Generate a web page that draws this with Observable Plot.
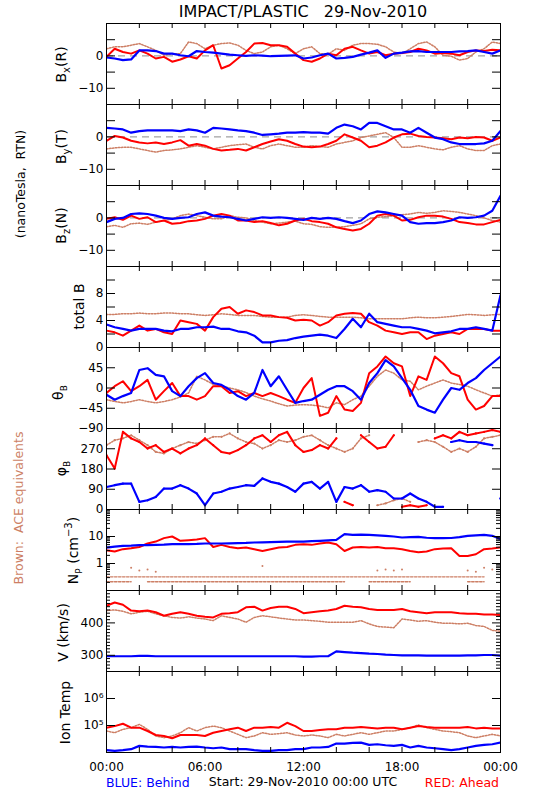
<!DOCTYPE html>
<html><head><meta charset="utf-8">
<script src="https://cdn.jsdelivr.net/npm/d3@7"></script>
<script src="https://cdn.jsdelivr.net/npm/@observablehq/plot@0.6"></script>
<style>
body{margin:0;background:#fff;}
#chart{position:relative;width:550px;height:800px;background:#fff;overflow:hidden;}
#overlay{position:absolute;left:0;top:0;pointer-events:none;}
</style></head><body><div id="chart"></div>
<script>
// ---------- data (every 30 min, hours since 00:00 UTC) ----------
const hours = [0,0.5,1,1.5,2,2.5,3,3.5,4,4.5,5,5.5,6,6.5,7,7.5,8,8.5,9,9.5,10,10.5,11,11.5,12,12.5,13,13.5,14,14.5,15,15.5,16,16.5,17,17.5,18,18.5,19,19.5,20,20.5,21,21.5,22,22.5,23,23.5,24];

const bxBlue  = [-0.5,-0.8,-1.3,-1.1,1.7,1.7,1.5,0.7,0.7,0.2,-0.1,1.5,1.2,1.0,0.7,0.4,0.2,0,0.2,0.1,-0.1,0,0.1,0.2,-0.8,-0.5,0.2,0.7,-0.8,-0.6,-0.3,0.4,1.0,1.7,-0.6,0.7,1.0,1.4,1.5,1.2,1.2,1.2,1.2,1.4,1.5,1.7,1.2,0.7,1.7];
const bxRed   = [-0.3,2.2,1.2,0.7,1.7,0.7,-0.8,-0.3,-1.8,-1.1,-0.1,-0.8,1.7,3.3,-3.9,-2.9,-0.8,1.2,3.8,4.0,3.3,3.3,2.8,0.7,-1.3,-1.8,-0.8,0.7,0.2,2.2,2.8,1.7,0.7,1.2,0.2,0.7,0.9,1.2,2.2,1.7,0.7,0.9,0.7,0.2,1.2,1.7,1.5,1.9,1.7];
const bxBrown = [2.2,2.8,2.8,3.3,3.8,2.8,1.7,0.2,0.7,0.7,4.3,3.8,2.2,3.3,3.8,4.0,3.3,1.7,0.7,1.2,2.8,3.3,2.2,0.7,2.2,2.8,0.7,0.5,2.2,1.7,3.3,3.8,3.8,3.6,2.8,1.2,0.7,2.2,3.8,4.3,2.8,0.2,-0.1,-1.3,-0.8,1.2,2.2,4.3,3.8];

const byBlue  = [2.8,2.6,2.3,1.3,1.8,2.0,2.0,2.0,2.0,1.8,2.3,2.0,1.3,2.8,2.6,2.3,2.0,1.8,1.3,0.6,0.8,1.0,1.3,1.3,1.5,1.3,1.3,1.0,2.8,3.8,3.3,2.3,4.3,4.3,3.3,2.3,2.3,1.3,2.8,1.3,-0.2,-0.7,-1.7,-2.2,-2.2,-2.2,-2.0,-1.2,1.8];
const byRed   = [-1.2,0.3,-0.2,-1.2,-1.7,-2.0,-1.7,-2.2,-1.7,-1.0,-2.7,-2.2,-2.7,-3.7,-4.2,-4.0,-3.7,-4.2,-3.2,-2.2,-1.4,-0.7,-1.2,-2.2,-3.0,-3.2,-3.0,-2.2,-1.2,0.8,-0.2,-1.2,-3.2,-2.7,-1.7,-0.2,0.8,1.0,0.3,0,-0.2,-0.4,-0.7,-0.2,-0.4,0,-0.2,-1.2,-0.2];
const byBrown = [-3.7,-3.4,-3.2,-3.2,-3.7,-4.2,-4.7,-4.2,-4.0,-3.7,-3.2,-2.7,-3.2,-3.7,-3.2,-2.7,-2.4,-2.2,-3.2,-3.7,-2.7,-2.2,-2.7,-3.2,-3.2,-2.7,-3.0,-3.2,-2.2,-1.7,-1.2,-0.2,0.3,0.8,1.3,-0.2,-3.2,-3.2,-2.7,-3.2,-3.7,-4.0,-3.2,-2.7,-3.7,-4.2,-4.2,-2.7,-2.2];

const bzBlue  = [-1.3,-0.3,0,1.2,1.4,1.2,0.7,0,-0.3,0,0.2,1.2,1.7,0.7,0.4,0.2,-0.3,-0.8,-0.3,0.2,0,0.2,0,-0.3,-0.6,0,-0.3,0,-0.3,-1.0,-1.6,-0.8,1.2,2.0,1.7,1.2,0.7,-1.3,-1.8,-1.6,-1.6,-1.3,-0.8,0.2,0,0.2,0.7,2.2,6.8];
const bzRed   = [-0.3,0.2,-0.6,0.7,-0.3,0.2,-1.3,-0.8,-1.8,-1.6,-1.0,-0.8,-0.3,0.7,1.2,0.7,-0.8,-0.8,-1.3,-1.0,-1.6,-2.3,-1.8,-0.8,-0.3,-1.0,-1.3,-1.8,-2.9,-3.4,-3.9,-3.4,-1.8,0.7,1.2,0.7,-0.8,-0.6,0.2,0.7,0.7,0.4,-0.3,-1.3,-1.6,-2.0,-2.0,-1.3,-0.6];
const bzBrown = [-2.7,-2.3,-2.9,-1.8,-1.6,-2.0,-1.3,-0.8,-0.3,0.7,1.2,0.7,0.2,-0.3,-0.3,0.7,0.2,0,-0.8,-1.3,-1.8,-1.6,-1.3,-1.0,-1.8,-2.0,-2.7,-2.9,-2.9,-2.7,-2.3,-1.8,-0.3,0.2,0.4,0.7,1.0,1.2,1.7,1.4,1.7,2.2,2.0,1.7,1.2,0.7,0,-0.8,-1.3];

const btBlue  = [3.4,3.0,2.75,2.5,2.75,2.75,2.75,2.5,2.4,2.75,2.75,3.0,3.0,3.1,2.75,2.75,2.4,2.25,1.75,0.75,0.75,1.0,1.1,1.4,1.6,1.75,1.9,1.75,1.4,2.75,4.25,3.0,5.0,3.75,3.5,3.25,3.0,3.0,2.75,2.5,2.1,2.25,2.4,2.75,2.75,3.0,2.75,2.5,7.75];
const btRed   = [2.5,2.25,1.75,2.5,3.25,2.5,2.75,2.25,2.0,4.0,3.75,3.5,2.5,4.5,5.75,6.0,5.0,5.5,5.25,4.75,4.75,4.5,4.4,4.0,4.1,4.0,3.25,3.75,4.75,5.0,5.1,5.0,3.75,3.25,2.5,2.25,2.0,2.25,2.25,1.25,1.75,2.0,2.25,2.0,2.75,2.75,2.75,2.5,2.5];
const btBrown = [4.9,4.9,5.0,5.0,5.1,5.0,5.0,5.1,5.1,5.0,5.0,4.85,4.75,4.85,5.0,4.9,4.75,4.75,4.75,4.6,4.5,4.5,4.5,4.75,4.85,4.75,4.6,4.5,4.5,4.5,4.5,4.4,4.25,4.25,4.25,4.25,4.25,4.4,4.5,4.4,4.4,4.5,4.6,4.75,4.9,4.85,4.75,4.85,4.9];

const thBlue  = [-15,-26,-18,-11,40,44,29,26,-7,-18,4,22,33,11,7,-4,-18,-26,-11,40,4,26,-4,-33,-29,-26,-15,-4,4,4,-7,-26,11,33,62,48,22,-4,-40,-48,-55,-26,0,-4,11,22,40,55,70];
const thRed   = [-11,4,15,-7,4,18,-26,-7,11,-18,-18,-26,-18,4,4,-11,-7,-18,-11,-18,-11,-18,-26,-33,0,22,-62,-55,-18,-48,-51,-33,33,48,70,55,48,-18,26,18,70,55,33,26,-26,-48,-40,-18,-18];
const thBrown = [-26,-30,-33,-30,-26,-30,-33,-30,-26,-20,-11,26,18,8,4,0,-4,-10,-18,-24,-29,-35,-40,-38,-37,-38,-40,-44,-33,-37,-26,-18,4,26,40,33,18,15,-4,4,11,18,11,8,4,-4,-11,-18,-15];

const phBlue  = [100,108,115,115,34,41,56,93,93,108,93,71,19,71,79,93,100,108,105,138,123,115,100,79,115,123,93,123,34,100,93,108,79,86,79,49,49,71,49,34,12,12,300,308,300,300,293,286,49];
const phRed   = [241,182,345,316,300,271,286,256,271,249,271,286,316,286,256,249,264,286,316,330,300,330,345,286,256,264,286,271,316,34,19,330,300,271,279,330,12,19,12,19,316,330,316,345,330,338,345,353,345];
const phBrown = [286,308,316,330,308,286,256,249,271,286,300,293,308,323,323,338,316,300,293,271,286,308,300,308,323,330,308,286,271,256,271,316,330,19,27,41,49,34,300,308,300,279,256,271,256,279,316,323,330];

const npBlue  = [3.9,4.2,4.5,4.6,4.8,4.8,4.9,5.0,5.2,5.2,5.2,5.3,5.5,5.5,5.5,5.6,5.7,5.8,6.0,6.1,6.2,6.3,6.5,6.5,6.5,6.7,6.9,7.2,7.5,12.2,11.5,11.8,11.5,11.0,10.6,10.0,9.2,9.5,9.7,9.0,8.7,8.7,8.8,9.5,10.6,11.0,11.5,10.6,8.0];
const npRed   = [3.1,2.8,3.4,3.7,4.1,5.5,6.5,8.7,10.0,6.9,7.3,7.7,8.7,4.1,4.9,4.1,3.7,3.9,3.4,2.9,3.4,3.9,4.1,4.9,5.2,4.9,5.5,6.0,5.2,2.9,3.9,4.1,3.9,4.1,3.7,3.7,3.4,2.9,2.6,2.8,3.4,3.6,3.7,1.9,1.9,2.2,3.4,3.6,3.9];
const npBrownHi = [0.32,0.32,0.32,0.32,0.32,0.32,0.32,0.32,0.32,0.32,0.32,0.32,0.32,0.32,0.32,0.32,0.32,0.32,0.32,0.32,0.32,0.32,0.32,0.32,0.32,0.32,0.32,0.32,0.32,0.32,0.32,0.32,0.32,0.32,0.32,0.32,0.32,0.32,0.32,0.32,0.32,0.32,0.32,0.32,0.32,0.32,0.32,null,null];
const npBrownLo = [0.21,0.21,0.21,0.21,null,0.21,0.21,0.21,0.21,0.21,0.21,0.21,0.21,0.21,0.21,0.21,0.21,0.21,0.21,0.21,0.21,0.21,0.21,0.21,0.21,0.21,0.21,0.21,0.21,0.21,null,null,0.21,0.21,0.21,0.21,0.21,0.21,null,null,0.21,null,null,null,0.21,0.21,0.21,null,null];
const npBrownMid = [null,null,null,0.7,0.55,0.6,0.5,null,null,null,null,null,null,null,null,null,null,null,null,0.8,null,null,null,null,null,null,null,null,null,null,null,null,null,0.55,0.6,0.55,0.6,null,null,null,null,null,null,null,0.55,0.5,0.7,0.6,null];

const vBlue  = [297,297,297,297,298,298,297,297,297,297,297,297,297,297,297,297,297,297,297,297,297,297,297,297,296,296,297,297,312,310,308,307,305,304,302,301,300,300,300,299,299,299,299,299,300,300,301,301,299];
const vRed   = [453,463,456,438,436,438,433,422,428,433,428,422,419,417,428,430,433,448,450,438,446,450,450,443,430,433,436,438,443,453,450,448,443,440,440,440,443,436,433,430,433,433,433,430,428,428,426,426,424];
const vBrown = [438,440,436,428,433,436,428,422,417,415,419,415,412,407,422,417,412,402,417,422,419,415,412,409,409,407,405,402,402,402,402,407,397,389,387,385,412,409,405,407,402,399,399,397,399,392,389,377,374];

const tBlue  = [12200,11500,12200,13250,17600,16600,16100,15300,16100,15300,16100,16600,15300,14400,15300,13250,13250,13250,12200,11500,11500,12200,12200,13250,13250,15300,15300,16100,21400,21400,22600,23300,19100,20200,18600,17600,19100,15300,17600,15300,14400,13250,12200,13250,15300,17600,19100,20200,23300];
const tRed   = [83000,95000,116000,83000,83000,62500,44500,41000,33600,44500,44500,44500,41000,54000,62500,72000,83000,62500,83000,83000,87500,83000,126000,95000,62500,62500,68000,72000,72000,83000,83000,87500,83000,78200,83000,83000,72000,83000,95000,87500,83000,83000,83000,83000,87500,78200,83000,78200,78200];
const tBrown = [62500,54000,72000,83000,110000,72000,41000,35500,41000,54000,83000,62500,83000,95000,83000,62500,47100,35500,41000,54000,47100,49900,54000,44500,41000,44500,41000,35500,47100,41000,47100,54000,47100,54000,62500,62500,72000,83000,104000,83000,72000,62500,59000,54000,41000,35500,41000,47100,41000];

// ticks and labels
const xTickHours = [0,6,12,18,24];
const xTickLabels = ["00:00","06:00","12:00","18:00","00:00"];
const xMinorHours = [2,4,6,8,10,12,14,16,18,20,22];
const npMinor = [0.2,0.3,0.4,0.5,0.6,0.7,0.8,0.9,2,3,4,5,6,7,8,9,20,30,40,50,60,70,80,90];
const vMinor = [260,270,280,290,310,320,330,340,350,360,370,380,390,410,420,430,440,450,460,470,480,490];

// ---------- styling ----------
const BLUE = "#0000ff", RED = "#ff0000", BROWN = "#cd7f65";
const FONT = "'DejaVu Sans', sans-serif";
const W = 550, ML = 106, MR = 50, PH = 81, TOP0 = 23;
const IW = W - ML - MR;

function pts(vals, wrap) {
  const out = [];
  vals.forEach((v, i) => {
    if (wrap && i > 0 && v != null && vals[i-1] != null && Math.abs(v - vals[i-1]) > 180)
      out.push({h: (hours[i] + hours[i-1]) / 2, v: NaN});
    out.push({h: hours[i], v: v == null ? NaN : v});
  });
  return out;
}
function lineOf(vals, color, wrap) {
  const data = pts(vals, wrap);
  const out = [];
  if (color === BROWN) out.push(Plot.line(data, {x: "h", y: "v", stroke: BROWN, strokeWidth: 1.5, strokeDasharray: "1.5,1.5", clip: true}));
  else out.push(Plot.line(data, {x: "h", y: "v", stroke: color, strokeWidth: color === BLUE ? 2.2 : 2, clip: true}));
  if (wrap) out.push(Plot.dot(data, {x: "h", y: "v", r: 1.1, fill: color, stroke: null, clip: true}));
  return out;
}

const sup = {"5": "\u2075", "6": "\u2076"};
const panels = [
  {y: {domain: [-15, 10]}, labels: [-10, 0], major: [-10, -5, 0, 5], zero: true, series: [[bxBrown, BROWN], [bxRed, RED], [bxBlue, BLUE]]},
  {y: {domain: [-15, 10]}, labels: [-10, 0], major: [-10, -5, 0, 5], zero: true, series: [[byBrown, BROWN], [byRed, RED], [byBlue, BLUE]]},
  {y: {domain: [-15, 10]}, labels: [-10, 0], major: [-10, -5, 0, 5], zero: true, series: [[bzBrown, BROWN], [bzRed, RED], [bzBlue, BLUE]]},
  {y: {domain: [0, 12]}, labels: [0, 4, 8], major: [2, 4, 6, 8, 10], series: [[btBrown, BROWN], [btRed, RED], [btBlue, BLUE]]},
  {y: {domain: [-90, 90]}, labels: [-90, -45, 0, 45], major: [-45, 0, 45], series: [[thBrown, BROWN], [thRed, RED], [thBlue, BLUE]]},
  {y: {domain: [0, 360]}, labels: [0, 90, 180, 270], major: [90, 180, 270], wrap: true, series: [[phBrown, BROWN], [phRed, RED], [phBlue, BLUE]]},
  {y: {type: "log", domain: [0.1, 100]}, labels: [1, 10], major: [1, 10], minor: npMinor, np: true, series: [[npRed, RED], [npBlue, BLUE]]},
  {y: {domain: [250, 500]}, labels: [300, 400], major: [300, 400], minor: vMinor, series: [[vBrown, BROWN], [vRed, RED], [vBlue, BLUE]]},
  {y: {type: "log", domain: [1e4, 1e7]}, labels: [1e5, 1e6], major: [1e5, 1e6], fmt: d => "10" + sup[String(Math.round(Math.log10(d)))], series: [[tBrown, BROWN], [tRed, RED], [tBlue, BLUE]]}
];

const chart = document.getElementById("chart");
panels.forEach((p, i) => {
  const last = i === panels.length - 1;
  const marks = [];
  if (p.zero) marks.push(Plot.ruleY([0], {stroke: "#8a8a8a", strokeWidth: 1, strokeDasharray: "7,5"}));
  if (p.np) {
    marks.push(Plot.line(pts(npBrownHi), {x: "h", y: "v", stroke: BROWN, strokeWidth: 1.4, strokeDasharray: "2.5,1.5"}));
    marks.push(Plot.line(pts(npBrownLo), {x: "h", y: "v", stroke: BROWN, strokeWidth: 1.4, strokeDasharray: "2.5,1.5"}));
    marks.push(Plot.dot(pts(npBrownMid), {x: "h", y: "v", fill: BROWN, r: 1, stroke: null}));
  }
  for (const [vals, color] of p.series) marks.push(...lineOf(vals, color, p.wrap));
  // y ticks (inward), both sides
  marks.push(Plot.ruleY(p.major, {y: d => d, insetRight: IW - 9, stroke: "black"}));
  marks.push(Plot.ruleY(p.major, {y: d => d, insetLeft: IW - 8, stroke: "black"}));
  if (p.minor) {
    marks.push(Plot.ruleY(p.minor, {y: d => d, insetRight: IW - 4, stroke: "black"}));
    marks.push(Plot.ruleY(p.minor, {y: d => d, insetLeft: IW - 4, stroke: "black"}));
  }
  // x ticks (inward), top and bottom
  marks.push(Plot.ruleX(xMinorHours, {x: d => d, insetBottom: PH - 5, stroke: "black"}));
  marks.push(Plot.ruleX(xMinorHours, {x: d => d, insetTop: PH - 5, stroke: "black"}));
  marks.push(Plot.frame({stroke: "black"}));
  marks.push(Plot.axisY(p.labels, {tickSize: 0, tickPadding: 3, label: null, fontSize: 12, tickFormat: p.fmt}));
  if (last) marks.push(Plot.axisX(xTickHours, {tickSize: 0, tickPadding: 10, label: null, fontSize: 12, tickFormat: d => xTickLabels[xTickHours.indexOf(d)]}));
  const svg = Plot.plot({
    width: W, height: PH + (last ? 40 : 0),
    marginLeft: ML, marginRight: MR, marginTop: 0, marginBottom: last ? 40 : 0,
    style: {overflow: "visible", background: "none", fontFamily: FONT, fontSize: "12px", color: "#000"},
    x: {domain: [0, 24], label: null, axis: last ? undefined : null},
    y: Object.assign({label: null, axis: null}, p.y),
    marks
  });
  svg.style.position = "absolute";
  svg.style.left = "0px";
  svg.style.top = (TOP0 + PH * i) + "px";
  chart.appendChild(svg);
});

// ---------- text overlay ----------
const ov = d3.select(chart).append("svg").attr("id", "overlay").attr("width", W).attr("height", 800)
  .style("font-family", FONT);
ov.append("text").attr("x", 303).attr("y", 17).attr("text-anchor", "middle").attr("font-size", 16)
  .style("white-space", "pre").attr("xml:space", "preserve").text("IMPACT/PLASTIC   29-Nov-2010");

function rot(x, y, parts, size, color) {
  const t = ov.append("text").attr("transform", `translate(${x},${y}) rotate(-90)`)
    .attr("text-anchor", "middle").attr("font-size", size).attr("fill", color || "#000")
    .style("white-space", "pre").attr("xml:space", "preserve");
  parts.forEach(p => {
    const s = t.append("tspan").text(p[0]);
    if (p[1]) s.attr("dy", p[1]);
    if (p[2]) s.attr("font-size", p[2]);
  });
}
const c = i => TOP0 + PH * i + PH / 2;
rot(66, c(0) + 1, [["B"], ["x", 4, 10], ["(R)", -4]], 14);
rot(66, c(1) + 2, [["B"], ["y", 4, 10], ["(T)", -4]], 14);
rot(66, c(2), [["B"], ["z", 4, 10], ["(N)", -4]], 14);
rot(84, c(3), [["total B"]], 14);
rot(63, c(4) + 5, [["\u03b8"], ["B", 4, 9]], 14);
rot(66, c(5), [["\u03c6"], ["B", 4, 9]], 14);
rot(78, c(6) + 1, [["N"], ["P", 4, 9], [" (cm", -4], ["\u22123", -6, 10], [")", 6]], 14);
rot(68, c(7) + 2, [["V (km/s)"]], 14);
rot(70, c(8) + 1, [["Ion Temp"]], 14);
rot(25, 184, [["(nanoTesla,  RTN)"]], 12.5);
rot(23, 508, [["Brown:  ACE equivalents"]], 12.5, BROWN);

ov.append("text").attr("x", 106).attr("y", 787).attr("font-size", 12.5).attr("fill", BLUE).text("BLUE: Behind");
ov.append("text").attr("x", 303).attr("y", 786).attr("font-size", 12.5).attr("text-anchor", "middle").text("Start: 29-Nov-2010 00:00 UTC");
ov.append("text").attr("x", 499).attr("y", 787).attr("font-size", 12.5).attr("text-anchor", "end").attr("fill", RED).text("RED: Ahead");
</script></body></html>
